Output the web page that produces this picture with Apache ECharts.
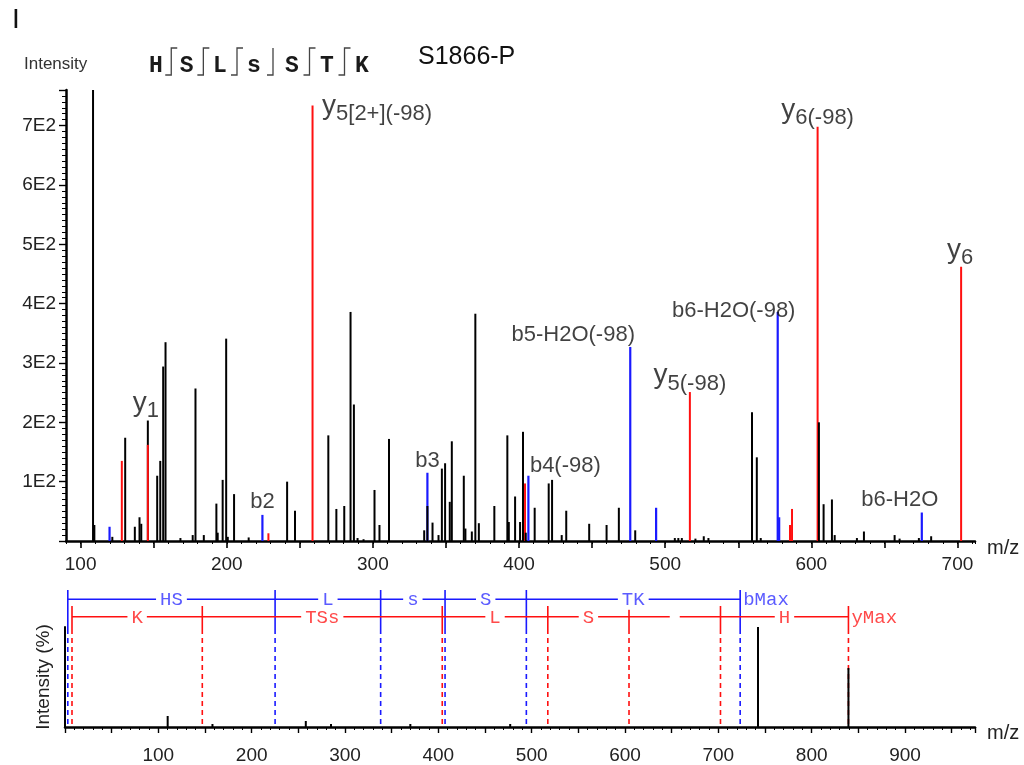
<!DOCTYPE html>
<html><head><meta charset="utf-8">
<script src="https://cdn.jsdelivr.net/npm/echarts@6/dist/echarts.min.js"></script>
<style>html,body{margin:0;padding:0;background:#fff}#c{width:1024px;height:765px}</style>
</head><body><div id="c"></div>
<script>
// ---------------- data ----------------
const blackPeaks = [
  [108.5,760],[109.4,27],[121.7,7],[130.5,174],[137.1,24],[140.3,40],[141.5,29],[146.0,203],
  [152.4,110],[154.5,135],[156.5,294],[158.1,335],[168.3,5],[176.7,10],[178.6,257],[184.3,10],
  [192.9,63],[193.8,14],[197.2,103],[199.6,341],[200.7,7],[205.0,79],[215.0,6],[241.3,100],[246.7,51],
  [269.5,178],[275.0,54],[280.4,59],[284.7,386],[287.0,230],[289.5,5],[293.6,3],[301.1,86],[304.5,27],
  [311.0,172],[335.1,18],[340.8,31],[344.9,10],[347.2,122],[349.4,131],[352.6,66],[354.0,168],[362.2,110],
  [363.3,21],[367.7,16],[370.1,383],[372.5,30],[383.1,59],[392.0,178],[393.0,32],[397.3,75],[400.7,32],
  [402.7,184],[410.7,56],[420.3,97],[422.6,103],[429.2,10],[432.3,51],[448.0,29],[459.9,27],[468.3,56],
  [479.5,18],[506.6,5],[509.0,5],[511.4,5],[520.7,4],[526.4,8],[529.6,5],[559.4,217],[562.7,141],
  [565.4,5],[608.4,62],[614.1,70],[616.0,10],[631.2,5],[636.0,16],[657.0,10],[660.4,4],[673.6,5],[682.0,8]
];
const blackOverlay = [[337.3,59],[404.6,14],[605.2,200]];
const redPeaks = [
  [128.2,135],[146.0,162],[228.5,13],[258.7,734],[404.1,97],[516.9,251],[585.4,27],[586.8,54],
  [604.3,698],[702.5,462]
];
const bluePeaks = [
  [119.8,24],[224.4,44],[337.3,115],[406.4,110],[476.1,327],[493.8,56],[577.0,386],[578.0,40],[675.6,48]
];
const peakLabels = [
  [146.0,203,'y1'],[258.7,734,'y5[2+](-98)'],[604.3,698,'y6(-98)'],[702.5,462,'y6'],
  [577.0,386,'b6-H2O(-98)'],[476.1,327,'b5-H2O(-98)'],[516.9,251,'y5(-98)'],[337.3,115,'b3'],
  [406.4,110,'b4(-98)'],[224.4,44,'b2'],[675.6,48,'b6-H2O']
];
const xMajorTicksMain = [100,150,200,250,300,350,400,450,500,550,600,650,700];
const xLabelsMain = [100,200,300,400,500,600,700];
const yLabelsMain = [100,200,300,400,500,600,700];

const sequence = ['H','S','L','s','S','T','K'];
const hookTop = [true,true,true,false,true,true];
const hookBottom = [true,true,true,true,true,true];

const bottomPeaks = [[110,11],[158,3],[258,6],[285,3],[370,3],[477,3],[742.5,100],[839.4,59]];
const bLadderMz = [3,225.1,338.2,407.2,494.3,723.4];
const bLadderLabels = ['HS','L','s','S','TK'];
const yLadderMz = [7.5,147.1,404.2,517.3,604.3,702.3,839.4];
const yLadderLabels = ['K','TSs','L','S','','H'];
const xLabelsBottom = [100,200,300,400,500,600,700,800,900];

// ---------------- chart ----------------
const FONT = '"Liberation Sans", Arial, Helvetica, sans-serif';
const MONO = '"Liberation Mono", "Courier New", monospace';
const RED = '#ff1010', BLUE = '#1a1aff';

function peakSeries(data, color, w, z, xi, yi) {
  return {
    type: 'custom', coordinateSystem: 'cartesian2d', xAxisIndex: xi, yAxisIndex: yi,
    data: data, z: z, clip: true, silent: true,
    renderItem: function (params, api) {
      const x = api.value(0), y = api.value(1);
      const p0 = api.coord([x, 0]), p1 = api.coord([x, y]);
      return { type: 'rect', shape: { x: p0[0] - w / 2, y: p1[1], width: w, height: p0[1] - p1[1] },
               style: { fill: color } };
    }
  };
}

function ladderSeries(mz, labels, color, textColor, lineOff, tickTop, endLabel) {
  const items = [];
  for (let i = 0; i < labels.length; i++) items.push([mz[i], mz[i + 1], i]);
  return {
    type: 'custom', coordinateSystem: 'cartesian2d', xAxisIndex: 2, yAxisIndex: 1,
    data: items, z: 1, clip: false, silent: true,
    renderItem: function (params, api) {
      const a = api.value(0), b = api.value(1), idx = api.value(2);
      const top = api.coord([0, 100])[1];
      const base = api.coord([0, 0])[1];
      const xa = api.coord([a, 0])[0], xb = api.coord([b, 0])[0];
      const ly = top - lineOff;
      const children = [];
      const vert = function (x) {
        children.push({ type: 'line', shape: { x1: x, y1: top - tickTop, x2: x, y2: top + 2 },
          style: { stroke: color, lineWidth: 1.6 } });
        children.push({ type: 'line', shape: { x1: x, y1: top + 2, x2: x, y2: base },
          style: { stroke: color, lineWidth: 1.6, lineDash: [5, 4] } });
      };
      children.push({ type: 'line', shape: { x1: xa, y1: ly, x2: xb, y2: ly },
        style: { stroke: color, lineWidth: 1.6 } });
      const lab = labels[idx];
      const cx = (xa + xb) / 2;
      if (lab) {
        children.push({ type: 'text', x: cx, y: ly + 1, z2: 5,
          style: { text: lab, font: '19px ' + MONO, fill: textColor, align: 'center', verticalAlign: 'middle',
                   backgroundColor: '#fff', padding: [0, 4] } });
      } else {
        children.push({ type: 'rect', shape: { x: cx - 5, y: ly - 2, width: 10, height: 4 }, style: { fill: '#fff' }, z2: 5 });
      }
      vert(xa);
      if (idx === labels.length - 1) {
        vert(xb);
        children.push({ type: 'text', x: xb + 3, y: ly + 1,
          style: { text: endLabel, font: '19px ' + MONO, fill: textColor, align: 'left', verticalAlign: 'middle' } });
      }
      return { type: 'group', children: children };
    }
  };
}

const labelPlace = {
  'y1': { position: 'top', offset: [-2, 2] },
  'y5[2+](-98)': { position: 'right', offset: [9, 5] },
  'y6(-98)': { position: 'top', offset: [0, 3] },
  'y6': { position: 'top', offset: [-1, 3] },
  'b6-H2O(-98)': { position: 'top', offset: [-44, 12] },
  'b5-H2O(-98)': { position: 'top', offset: [-57, 1] },
  'y5(-98)': { position: 'top', offset: [0, 3] },
  'b3': { position: 'top', offset: [0, 2] },
  'b4(-98)': { position: 'right', offset: [1, -10] },
  'b2': { position: 'top', offset: [0, 1] },
  'b6-H2O': { position: 'top', offset: [-22, 1] }
};
function fmtLabel(t) { return t[0] === 'y' ? '{y|y}{s|' + t.slice(1) + '}' : '{b|' + t + '}'; }

const letterX = [155.8, 186.7, 220, 254, 292, 327, 362];
const graphics = [
  { type: 'text', left: 12, top: 6, style: { text: 'I', font: '28px ' + FONT, fill: '#111' } },
  { type: 'text', left: 24, top: 56, style: { text: 'Intensity', font: '17px ' + FONT, fill: '#333' } },
  { type: 'text', left: 418, top: 45, style: { text: 'S1866-P', font: '25px ' + FONT, fill: '#111' } }
];
sequence.forEach(function (s, i) {
  graphics.push({ type: 'text', x: letterX[i], y: 66,
    style: { text: s, font: 'bold 23px ' + MONO, fill: '#1a1a1a', align: 'center', verticalAlign: 'middle' } });
});
for (let i = 0; i < sequence.length - 1; i++) {
  const dx = (letterX[i] + letterX[i + 1]) / 2;
  const pts = [];
  if (hookBottom[i]) pts.push([dx - 6, 75]);
  pts.push([dx, 75]);
  pts.push([dx, 48]);
  if (hookTop[i]) pts.push([dx + 6, 48]);
  graphics.push({ type: 'polyline', shape: { points: pts }, style: { stroke: '#444', lineWidth: 1.3, fill: null } });
}

const option = {
  animation: false,
  backgroundColor: '#fff',
  textStyle: { fontFamily: FONT },
  graphic: graphics,
  grid: [
    { left: 66, right: 49, top: 90, bottom: 224 },
    { left: 65, right: 49, top: 627, bottom: 37 }
  ],
  xAxis: [
    { gridIndex: 0, type: 'value', min: 90, max: 712, interval: 10,
      axisLine: { show: true, onZero: false, lineStyle: { color: '#000', width: 2.5 } },
      axisTick: { show: true, length: 3, lineStyle: { color: '#000', width: 1 } },
      axisLabel: { fontSize: 19, color: '#222', fontFamily: FONT, margin: 14,
        formatter: function (v) { return xLabelsMain.indexOf(v) >= 0 ? String(v) : ''; } },
      splitLine: { show: false },
      name: 'm/z', nameLocation: 'end', nameGap: 12,
      nameTextStyle: { fontSize: 20, color: '#222', fontFamily: FONT, verticalAlign: 'top', lineHeight: 14 } },
    { gridIndex: 0, type: 'value', min: 90, max: 712, position: 'bottom',
      axisLine: { show: false },
      axisTick: { show: true, customValues: xMajorTicksMain, length: 7, lineStyle: { color: '#000', width: 1.6 } },
      axisLabel: { show: false }, splitLine: { show: false } },
    { gridIndex: 1, type: 'value', min: 0, max: 975, interval: 50,
      axisLine: { show: true, onZero: false, lineStyle: { color: '#000', width: 2.5 } },
      axisTick: { show: true, length: 6, lineStyle: { color: '#000', width: 1.4 } },
      minorTick: { show: true, splitNumber: 5, length: 3, lineStyle: { color: '#000', width: 1 } },
      axisLabel: { fontSize: 19, color: '#222', fontFamily: FONT, margin: 19,
        formatter: function (v) { return xLabelsBottom.indexOf(v) >= 0 ? String(v) : ''; } },
      splitLine: { show: false },
      name: 'm/z', nameLocation: 'end', nameGap: 12,
      nameTextStyle: { fontSize: 20, color: '#222', fontFamily: FONT, verticalAlign: 'top', lineHeight: 12 } }
  ],
  yAxis: [
    { gridIndex: 0, type: 'value', min: 0, max: 760, interval: 100,
      axisLine: { show: true, lineStyle: { color: '#000', width: 2.5 } },
      axisTick: { show: true, length: 7, lineStyle: { color: '#000', width: 1.4 } },
      minorTick: { show: true, splitNumber: 10, length: 4, lineStyle: { color: '#000', width: 1 } },
      axisLabel: { fontSize: 19, color: '#222', fontFamily: FONT, margin: 10, showMaxLabel: false,
        formatter: function (v) { return yLabelsMain.indexOf(v) >= 0 ? (v / 100) + 'E2' : ''; } },
      splitLine: { show: false } },
    { gridIndex: 1, type: 'value', min: 0, max: 100,
      axisLine: { show: true, lineStyle: { color: '#000', width: 2 } },
      axisTick: { show: false }, axisLabel: { show: false }, splitLine: { show: false },
      name: 'Intensity (%)', nameLocation: 'middle', nameGap: 12, nameRotate: 90,
      nameTextStyle: { fontSize: 19, color: '#222', fontFamily: FONT } }
  ],
  series: [
    peakSeries(blackPeaks, '#000', 2, 2, 0, 0),
    peakSeries(redPeaks, RED, 2, 3, 0, 0),
    peakSeries(bluePeaks, BLUE, 2.2, 3, 0, 0),
    peakSeries(blackOverlay, '#000', 2, 4, 0, 0),
    {
      type: 'scatter', xAxisIndex: 0, yAxisIndex: 0, symbolSize: 1, z: 6, silent: true,
      itemStyle: { color: 'rgba(0,0,0,0)' },
      data: peakLabels.map(function (p) {
        return { value: [p[0], p[1]], name: p[2], label: labelPlace[p[2]] };
      }),
      label: {
        show: true, distance: 0,
        formatter: function (p) { return fmtLabel(p.name); },
        rich: {
          y: { fontSize: 28, fontFamily: FONT, color: '#111', lineHeight: 30, verticalAlign: 'bottom', padding: [0, 0, 5, 0] },
          s: { fontSize: 22, fontFamily: FONT, color: '#111', lineHeight: 22, verticalAlign: 'bottom' },
          b: { fontSize: 22, fontFamily: FONT, color: '#111', lineHeight: 26 }
        }
      }
    },
    ladderSeries(bLadderMz, bLadderLabels, BLUE, '#5b5bff', 27.7, 37, 'bMax'),
    ladderSeries(yLadderMz, yLadderLabels, RED, '#ff4a4a', 10.3, 21, 'yMax'),
    peakSeries(bottomPeaks, '#000', 2, 4, 2, 1)
  ]
};
const chart = echarts.init(document.getElementById('c'), null, { renderer: 'canvas' });
chart.setOption(option);
</script>
</body></html>
